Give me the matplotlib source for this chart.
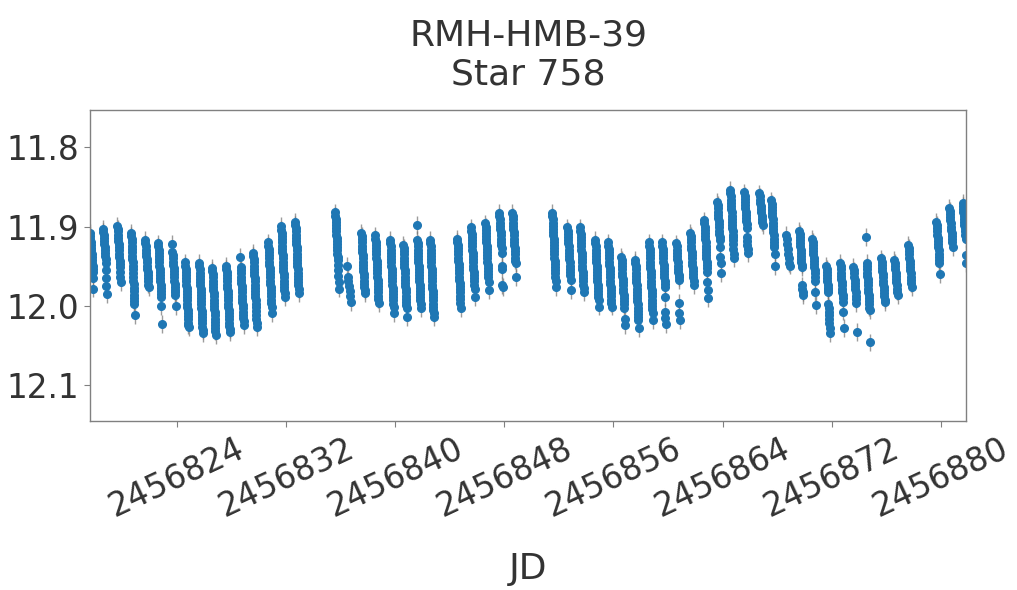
import numpy as np
import matplotlib
matplotlib.use("Agg")
import matplotlib.pyplot as plt
from matplotlib.ticker import MultipleLocator, FormatStrFormatter

# nightly light curve of the variable, grouped by observing run
# night = JD of the night centre, mags = one list of magnitudes per night
run1_jd = [2456817.75, 2456818.72, 2456819.75, 2456820.77, 2456821.80, 2456822.75,
           2456823.78, 2456824.73, 2456825.76, 2456826.71, 2456827.74, 2456828.77,
           2456829.72, 2456830.82, 2456831.77, 2456832.80]
run1_mag = [
    [11.908, 11.912, 11.915, 11.919, 11.923, 11.927, 11.930, 11.934, 11.938, 11.942, 11.946, 11.950, 11.953, 11.957, 11.965, 11.978],
    [11.903, 11.907, 11.910, 11.914, 11.918, 11.922, 11.926, 11.929, 11.933, 11.937, 11.941, 11.946, 11.955, 11.965, 11.975, 11.985],
    [11.899, 11.903, 11.906, 11.910, 11.914, 11.918, 11.922, 11.926, 11.930, 11.934, 11.938, 11.943, 11.947, 11.951, 11.957, 11.964, 11.970],
    [11.908, 11.912, 11.916, 11.920, 11.924, 11.928, 11.932, 11.937, 11.941, 11.945, 11.950, 11.954, 11.959, 11.963, 11.968, 11.972, 11.977, 11.981, 11.986, 11.990, 11.994, 11.997, 12.012],
    [11.917, 11.921, 11.925, 11.929, 11.933, 11.937, 11.941, 11.945, 11.949, 11.953, 11.957, 11.961, 11.965, 11.969, 11.973, 11.976],
    [11.921, 11.925, 11.929, 11.933, 11.937, 11.941, 11.945, 11.949, 11.953, 11.957, 11.961, 11.965, 11.969, 11.973, 11.977, 11.981, 11.985, 11.989, 12.000, 12.023],
    [11.922, 11.932, 11.936, 11.940, 11.944, 11.948, 11.952, 11.956, 11.960, 11.964, 11.968, 11.972, 11.976, 11.980, 11.983, 11.986, 12.000],
    [11.945, 11.949, 11.953, 11.957, 11.961, 11.965, 11.969, 11.973, 11.977, 11.981, 11.985, 11.989, 11.993, 11.997, 12.001, 12.005, 12.009, 12.013, 12.017, 12.021, 12.024, 12.027],
    [11.946, 11.950, 11.954, 11.958, 11.962, 11.966, 11.970, 11.974, 11.978, 11.982, 11.986, 11.990, 11.994, 11.998, 12.002, 12.006, 12.010, 12.014, 12.018, 12.022, 12.026, 12.030, 12.034],
    [11.952, 11.956, 11.960, 11.964, 11.968, 11.972, 11.976, 11.980, 11.984, 11.988, 11.992, 11.996, 12.000, 12.004, 12.008, 12.012, 12.016, 12.020, 12.024, 12.028, 12.032, 12.037],
    [11.949, 11.953, 11.957, 11.961, 11.965, 11.969, 11.973, 11.977, 11.981, 11.985, 11.989, 11.993, 11.997, 12.001, 12.005, 12.009, 12.013, 12.017, 12.021, 12.025, 12.029, 12.033],
    [11.938, 11.951, 11.955, 11.959, 11.963, 11.967, 11.971, 11.975, 11.979, 11.983, 11.987, 11.991, 11.995, 11.999, 12.003, 12.007, 12.011, 12.015, 12.019, 12.024],
    [11.933, 11.937, 11.941, 11.945, 11.949, 11.953, 11.957, 11.961, 11.965, 11.969, 11.973, 11.977, 11.981, 11.985, 11.989, 11.993, 11.997, 12.001, 12.006, 12.011, 12.017, 12.022, 12.027],
    [11.920, 11.924, 11.928, 11.932, 11.936, 11.940, 11.944, 11.948, 11.952, 11.956, 11.960, 11.964, 11.968, 11.972, 11.976, 11.980, 11.984, 11.988, 11.992, 11.996, 12.001, 12.009],
    [11.899, 11.904, 11.908, 11.912, 11.916, 11.920, 11.924, 11.928, 11.932, 11.936, 11.940, 11.944, 11.948, 11.952, 11.956, 11.960, 11.964, 11.968, 11.972, 11.976, 11.980, 11.984, 11.989],
    [11.894, 11.898, 11.902, 11.906, 11.910, 11.914, 11.918, 11.922, 11.926, 11.930, 11.934, 11.938, 11.942, 11.946, 11.950, 11.954, 11.958, 11.962, 11.966, 11.970, 11.974, 11.979, 11.984],
]

run2_jd = [2456835.73, 2456836.61, 2456837.64, 2456838.66, 2456839.76, 2456840.72,
           2456841.74, 2456842.70]
run2_mag = [
    [11.882, 11.886, 11.890, 11.894, 11.898, 11.902, 11.906, 11.910, 11.914, 11.918, 11.922, 11.926, 11.930, 11.934, 11.938, 11.942, 11.948, 11.955, 11.962, 11.970, 11.978],
    [11.949, 11.964, 11.969, 11.975, 11.981, 11.987, 11.995],
    [11.908, 11.912, 11.916, 11.920, 11.924, 11.928, 11.932, 11.936, 11.940, 11.944, 11.948, 11.952, 11.956, 11.960, 11.964, 11.968, 11.972, 11.976, 11.980, 11.984],
    [11.911, 11.915, 11.919, 11.923, 11.927, 11.931, 11.935, 11.939, 11.943, 11.947, 11.951, 11.955, 11.959, 11.963, 11.967, 11.971, 11.975, 11.979, 11.983, 11.987, 11.991, 11.996],
    [11.917, 11.921, 11.925, 11.929, 11.933, 11.937, 11.941, 11.945, 11.949, 11.953, 11.957, 11.961, 11.965, 11.969, 11.973, 11.977, 11.981, 11.985, 11.989, 11.993, 11.997, 12.001, 12.009],
    [11.923, 11.927, 11.931, 11.935, 11.939, 11.943, 11.947, 11.951, 11.955, 11.959, 11.963, 11.967, 11.971, 11.975, 11.979, 11.983, 11.987, 11.991, 11.995, 11.999, 12.003, 12.014],
    [11.898, 11.917, 11.921, 11.925, 11.929, 11.933, 11.937, 11.941, 11.945, 11.949, 11.953, 11.957, 11.961, 11.965, 11.969, 11.973, 11.977, 11.981, 11.985, 11.989, 11.993, 11.997, 12.003],
    [11.917, 11.921, 11.925, 11.929, 11.933, 11.937, 11.941, 11.945, 11.949, 11.953, 11.957, 11.961, 11.965, 11.969, 11.973, 11.977, 11.981, 11.985, 11.989, 11.993, 11.997, 12.001, 12.005, 12.009, 12.014],
]

run3_jd = [2456844.67, 2456845.70, 2456846.73, 2456847.75, 2456848.71]
run3_mag = [
    [11.915, 11.919, 11.923, 11.927, 11.931, 11.935, 11.939, 11.943, 11.947, 11.951, 11.955, 11.959, 11.963, 11.967, 11.971, 11.975, 11.979, 11.983, 11.987, 11.991, 11.996, 12.003],
    [11.901, 11.905, 11.909, 11.913, 11.917, 11.921, 11.925, 11.929, 11.933, 11.937, 11.941, 11.945, 11.949, 11.953, 11.957, 11.961, 11.965, 11.969, 11.973, 11.979, 11.989],
    [11.896, 11.900, 11.904, 11.908, 11.912, 11.916, 11.920, 11.924, 11.928, 11.932, 11.936, 11.940, 11.944, 11.948, 11.952, 11.956, 11.960, 11.964, 11.970, 11.980],
    [11.883, 11.887, 11.891, 11.895, 11.899, 11.903, 11.907, 11.911, 11.915, 11.919, 11.923, 11.927, 11.933, 11.949, 11.954, 11.974, 11.976],
    [11.883, 11.887, 11.891, 11.895, 11.899, 11.903, 11.907, 11.911, 11.915, 11.919, 11.923, 11.927, 11.931, 11.935, 11.939, 11.943, 11.946, 11.964],
]

run4_jd = [2456851.64, 2456852.74, 2456853.69, 2456854.79, 2456855.74, 2456856.70,
           2456857.72, 2456858.75, 2456859.70, 2456860.73, 2456861.76, 2456862.78,
           2456863.74, 2456864.69, 2456865.72, 2456866.82, 2456867.70, 2456868.79,
           2456869.75, 2456870.70, 2456871.73, 2456872.75, 2456873.71, 2456874.66,
           2456875.76, 2456876.71, 2456877.74]
run4_mag = [
    [11.883, 11.887, 11.891, 11.895, 11.899, 11.903, 11.907, 11.911, 11.915, 11.919, 11.923, 11.927, 11.931, 11.935, 11.939, 11.943, 11.947, 11.951, 11.955, 11.959, 11.963, 11.968, 11.976],
    [11.901, 11.905, 11.909, 11.913, 11.917, 11.921, 11.925, 11.929, 11.933, 11.937, 11.941, 11.945, 11.949, 11.953, 11.957, 11.961, 11.967, 11.980],
    [11.901, 11.905, 11.909, 11.913, 11.917, 11.921, 11.925, 11.929, 11.933, 11.937, 11.941, 11.945, 11.949, 11.953, 11.957, 11.961, 11.965, 11.969, 11.973, 11.977, 11.983],
    [11.917, 11.921, 11.925, 11.929, 11.933, 11.937, 11.941, 11.945, 11.949, 11.953, 11.957, 11.961, 11.965, 11.969, 11.973, 11.977, 11.981, 11.985, 11.989, 11.993, 12.001],
    [11.920, 11.924, 11.928, 11.932, 11.936, 11.940, 11.944, 11.948, 11.952, 11.956, 11.960, 11.964, 11.968, 11.972, 11.976, 11.980, 11.984, 11.988, 11.992, 11.996, 12.001],
    [11.938, 11.942, 11.946, 11.950, 11.954, 11.958, 11.962, 11.966, 11.970, 11.974, 11.978, 11.982, 11.986, 11.990, 11.994, 11.998, 12.003, 12.017, 12.024],
    [11.942, 11.946, 11.950, 11.954, 11.958, 11.962, 11.966, 11.970, 11.974, 11.978, 11.982, 11.986, 11.990, 11.994, 11.998, 12.002, 12.006, 12.010, 12.014, 12.018, 12.028],
    [11.920, 11.924, 11.928, 11.932, 11.936, 11.940, 11.944, 11.948, 11.952, 11.956, 11.960, 11.964, 11.968, 11.972, 11.976, 11.980, 11.984, 11.988, 11.992, 11.996, 12.000, 12.004, 12.009, 12.018],
    [11.920, 11.924, 11.928, 11.932, 11.936, 11.940, 11.944, 11.948, 11.952, 11.956, 11.960, 11.964, 11.968, 11.972, 11.976, 11.989, 12.008, 12.015, 12.023],
    [11.921, 11.925, 11.929, 11.933, 11.937, 11.941, 11.945, 11.949, 11.953, 11.957, 11.961, 11.964, 11.967, 11.996, 12.009, 12.018],
    [11.908, 11.912, 11.916, 11.920, 11.924, 11.928, 11.932, 11.936, 11.940, 11.944, 11.948, 11.952, 11.956, 11.960, 11.964, 11.968, 11.974],
    [11.892, 11.896, 11.900, 11.904, 11.908, 11.912, 11.916, 11.920, 11.924, 11.928, 11.932, 11.936, 11.940, 11.944, 11.948, 11.952, 11.957, 11.970, 11.980, 11.990],
    [11.869, 11.873, 11.877, 11.881, 11.885, 11.889, 11.893, 11.897, 11.901, 11.905, 11.909, 11.913, 11.917, 11.926, 11.938, 11.946, 11.959],
    [11.854, 11.858, 11.862, 11.866, 11.870, 11.874, 11.878, 11.882, 11.886, 11.890, 11.894, 11.898, 11.902, 11.906, 11.910, 11.913, 11.917, 11.922, 11.928, 11.934, 11.940],
    [11.857, 11.861, 11.865, 11.869, 11.873, 11.877, 11.881, 11.885, 11.889, 11.893, 11.897, 11.902, 11.913, 11.918, 11.923, 11.928, 11.933],
    [11.858, 11.862, 11.866, 11.870, 11.874, 11.878, 11.882, 11.886, 11.890, 11.894, 11.898],
    [11.867, 11.871, 11.875, 11.879, 11.883, 11.887, 11.891, 11.895, 11.899, 11.903, 11.907, 11.911, 11.915, 11.919, 11.923, 11.926, 11.935, 11.950],
    [11.910, 11.916, 11.922, 11.928, 11.934, 11.940, 11.946, 11.949],
    [11.905, 11.909, 11.913, 11.917, 11.921, 11.925, 11.929, 11.933, 11.937, 11.941, 11.945, 11.948, 11.951, 11.974, 11.979, 11.983, 11.986],
    [11.915, 11.919, 11.923, 11.927, 11.931, 11.935, 11.939, 11.943, 11.947, 11.951, 11.955, 11.959, 11.963, 11.968, 11.983, 11.999],
    [11.949, 11.953, 11.957, 11.961, 11.965, 11.969, 11.973, 11.977, 11.980, 11.983, 11.997, 12.002, 12.007, 12.012, 12.017, 12.022, 12.028, 12.034],
    [11.946, 11.950, 11.954, 11.958, 11.962, 11.966, 11.970, 11.974, 11.978, 11.982, 11.986, 11.990, 11.995, 12.007, 12.028],
    [11.951, 11.955, 11.959, 11.963, 11.967, 11.971, 11.975, 11.979, 11.983, 11.987, 11.991, 11.996, 12.033],
    [11.913, 11.946, 11.950, 11.954, 11.958, 11.962, 11.966, 11.970, 11.974, 11.978, 11.982, 11.986, 11.990, 11.994, 11.998, 12.002, 12.005, 12.046],
    [11.940, 11.944, 11.948, 11.952, 11.956, 11.960, 11.964, 11.968, 11.972, 11.976, 11.980, 11.984, 11.988, 11.992, 11.995],
    [11.942, 11.946, 11.950, 11.954, 11.958, 11.962, 11.966, 11.970, 11.974, 11.978, 11.982, 11.986],
    [11.923, 11.927, 11.931, 11.935, 11.939, 11.943, 11.947, 11.951, 11.955, 11.959, 11.963, 11.967, 11.971, 11.976],
]

run5_jd = [2456879.79, 2456880.74, 2456881.72]
run5_mag = [
    [11.894, 11.898, 11.902, 11.906, 11.910, 11.914, 11.918, 11.922, 11.926, 11.930, 11.934, 11.938, 11.942, 11.946, 11.960],
    [11.876, 11.880, 11.884, 11.888, 11.892, 11.896, 11.900, 11.904, 11.908, 11.912, 11.916, 11.920, 11.926],
    [11.870, 11.874, 11.878, 11.882, 11.886, 11.890, 11.894, 11.898, 11.902, 11.906, 11.910, 11.915, 11.936, 11.946],
]

MAG_ERR = 0.011      # typical photometric error
NIGHT_SPAN = 0.25    # length of each night's series, days

TEXT = "#333333"

# flatten the nights into one time series
t, m = [], []
for jds, mags in [(run1_jd, run1_mag), (run2_jd, run2_mag), (run3_jd, run3_mag),
                  (run4_jd, run4_mag), (run5_jd, run5_mag)]:
    for jd, night in zip(jds, mags):
        n = len(night)
        t.extend(jd - NIGHT_SPAN / 2 + NIGHT_SPAN * np.arange(n) / max(n - 1, 1))
        m.extend(night)
t = np.array(t)
m = np.array(m)

fig = plt.figure(figsize=(10.17, 5.9), dpi=100)
ax = fig.add_axes([0.0885, 0.2864, 0.8614, 0.5272])

ax.errorbar(t, m, yerr=MAG_ERR, fmt="o", ms=5.5, color="#1f77b4", mec="#1f77b4",
            ecolor=(0.45, 0.45, 0.45, 0.7), elinewidth=1.0, capsize=0)

ax.set_xlim(t.min(), t.max())
ax.set_ylim(12.145, 11.753)
ax.xaxis.set_major_locator(MultipleLocator(8))
ax.xaxis.set_major_formatter(FormatStrFormatter("%d"))
ax.yaxis.set_major_locator(MultipleLocator(0.1))
ax.yaxis.set_major_formatter(FormatStrFormatter("%.1f"))

for s in ax.spines.values():
    s.set_color("0.5")
    s.set_linewidth(1.0)
ax.tick_params(colors="0.5", labelcolor=TEXT, labelsize=23.5, length=4.5)
plt.setp(ax.get_xticklabels(), rotation=25)

ax.set_title("RMH-HMB-39\nStar 758", fontsize=26, color=TEXT, pad=18, linespacing=1.2)
ax.set_xlabel("JD", fontsize=26, color=TEXT)
ax.xaxis.set_label_coords(0.5, -0.42)

fig.savefig("out.png", dpi=100)
